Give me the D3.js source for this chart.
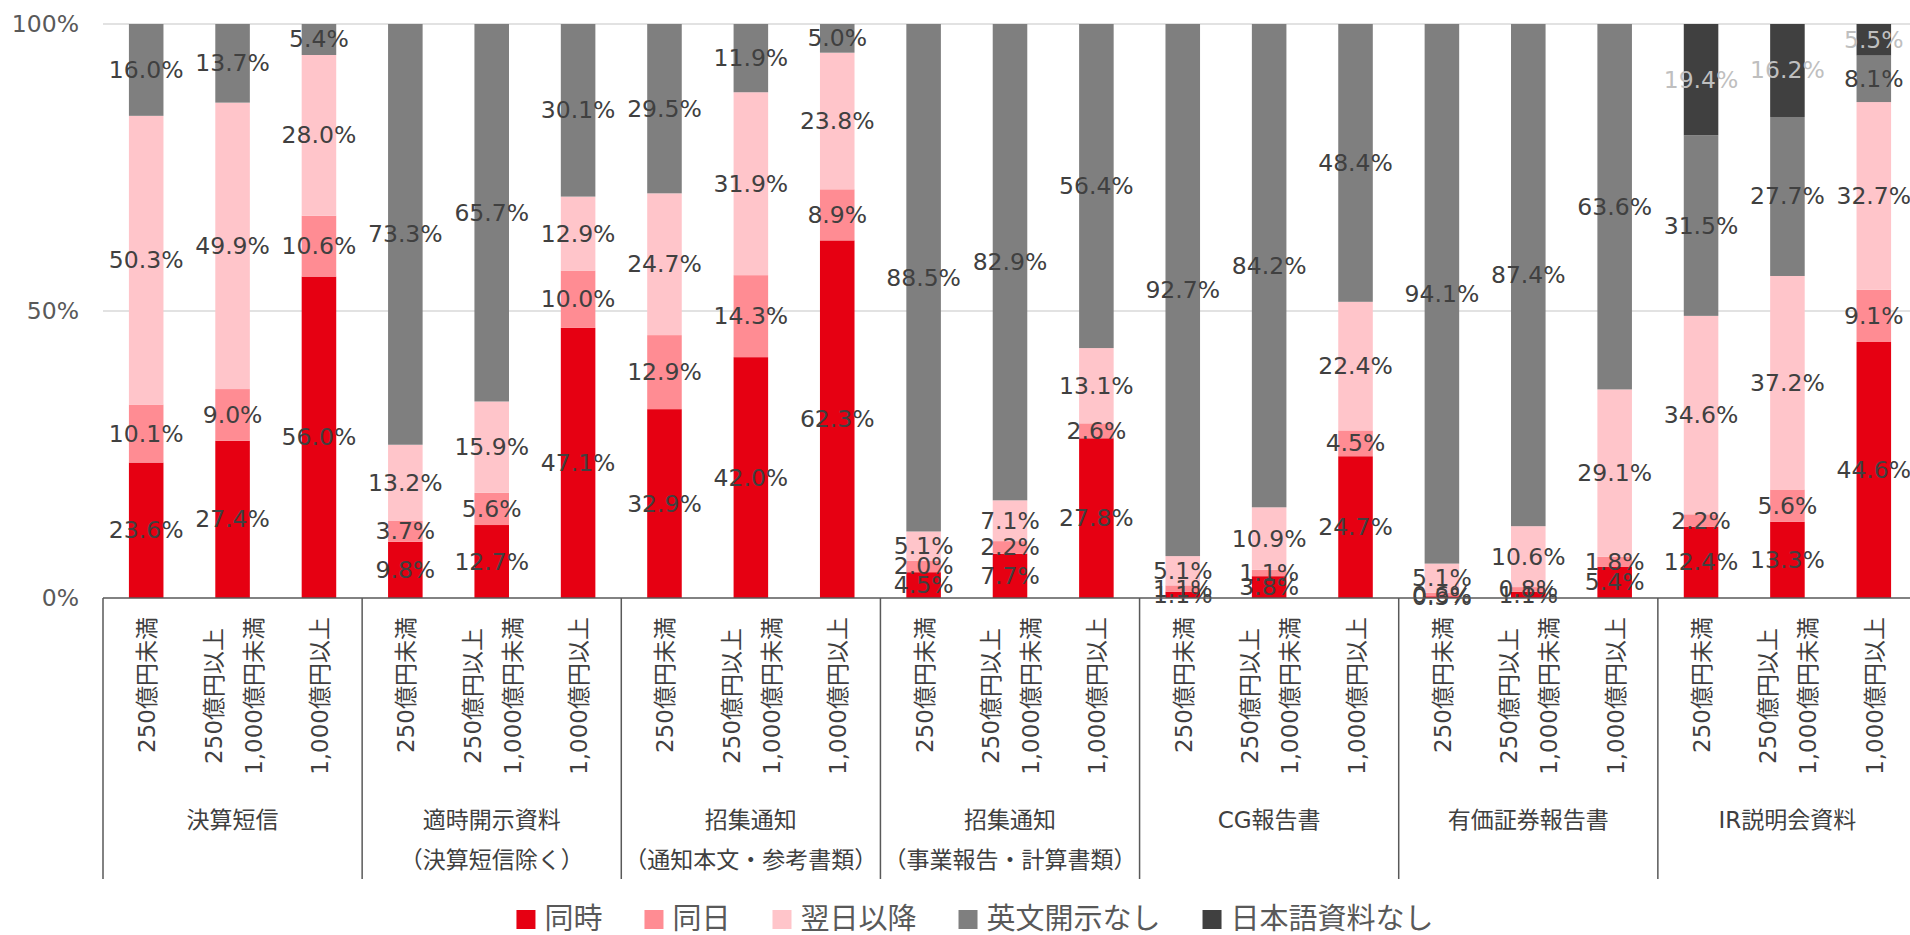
<!DOCTYPE html>
<html>
<head>
<meta charset="utf-8">
<script src="https://cdn.jsdelivr.net/npm/d3@7"></script>
<style>
  body { margin: 0; background: #fff; }
  svg { display: block; font-family: "DejaVu Sans", "Noto Sans CJK JP", sans-serif; }
</style>
</head>
<body>
<svg id="chart"></svg>
<script>
// categories
const groupLabels = [
  ["決算短信"],
  ["適時開示資料", "（決算短信除く）"],
  ["招集通知", "（通知本文・参考書類）"],
  ["招集通知", "（事業報告・計算書類）"],
  ["CG報告書"],
  ["有価証券報告書"],
  ["IR説明会資料"],
];
const sizeLabels = [["250億円未満"], ["250億円以上", "1,000億円未満"], ["1,000億円以上"]];
const seriesNames = ["同時", "同日", "翌日以降", "英文開示なし", "日本語資料なし"];
const seriesColors = ["#E60012", "#FF8C93", "#FFC5CA", "#7F7F7F", "#404040"];
const labelColors = ["#404040", "#404040", "#404040", "#404040", "#BFBFBF"];
const yTicks = [0, 0.5, 1];

// series values (%), 21 bars = 7 groups x 3 sizes
const douji = [23.6, 27.4, 56.0, 9.8, 12.7, 47.1, 32.9, 42.0, 62.3, 4.5, 7.7, 27.8, 1.1, 3.8, 24.7, 0.3, 1.1, 5.4, 12.4, 13.3, 44.6];
const dojitsu = [10.1, 9.0, 10.6, 3.7, 5.6, 10.0, 12.9, 14.3, 8.9, 2.0, 2.2, 2.6, 1.1, 1.1, 4.5, 0.6, 0.8, 1.8, 2.2, 5.6, 9.1];
const yokujitsu = [50.3, 49.9, 28.0, 13.2, 15.9, 12.9, 24.7, 31.9, 23.8, 5.1, 7.1, 13.1, 5.1, 10.9, 22.4, 5.1, 10.6, 29.1, 34.6, 37.2, 32.7];
const eibunNashi = [16.0, 13.7, 5.4, 73.3, 65.7, 30.1, 29.5, 11.9, 5.0, 88.5, 82.9, 56.4, 92.7, 84.2, 48.4, 94.1, 87.4, 63.6, 31.5, 27.7, 8.1];
const nihongoNashi = [0, 0, 0, 0, 0, 0, 0, 0, 0, 0, 0, 0, 0, 0, 0, 0, 0, 0, 19.4, 16.2, 5.5];

const seriesValues = [douji, dojitsu, yokujitsu, eibunNashi, nihongoNashi];

const width = 1910;
const height = 935;
const margin = { top: 24, left: 103, bottom: 598 };
const plotRight = 1917;

const svg = d3.select("#chart").attr("width", width).attr("height", height);

// build table for stack
const rows = d3.range(douji.length).map((i) => {
  const r = { idx: i };
  seriesNames.forEach((s, k) => (r[s] = seriesValues[k][i]));
  return r;
});

const stacked = d3.stack().keys(seriesNames).offset(d3.stackOffsetExpand)(rows);

const xScale = d3
  .scaleBand()
  .domain(d3.range(rows.length))
  .range([margin.left, plotRight])
  .paddingInner(0.6)
  .paddingOuter(0.3);

const yScale = d3.scaleLinear().domain([0, 1]).range([margin.bottom, margin.top]);

// gridlines
svg
  .append("g")
  .selectAll("line")
  .data(yTicks.filter((t) => t > 0))
  .join("line")
  .attr("x1", margin.left)
  .attr("x2", width)
  .attr("y1", (d) => yScale(d))
  .attr("y2", (d) => yScale(d))
  .attr("stroke", "#D9D9D9")
  .attr("stroke-width", 1.5);

// y axis labels
svg
  .append("g")
  .selectAll("text")
  .data(yTicks)
  .join("text")
  .attr("x", 79)
  .attr("y", (d) => yScale(d))
  .attr("text-anchor", "end")
  .attr("dominant-baseline", "central")
  .attr("fill", "#595959")
  .attr("font-size", 23.5)
  .text(d3.format(".0%"));

// bars
const layers = svg
  .append("g")
  .selectAll("g")
  .data(stacked)
  .join("g")
  .attr("fill", (d, i) => seriesColors[i]);

layers
  .selectAll("rect")
  .data((d) => d)
  .join("rect")
  .attr("x", (d) => xScale(d.data.idx))
  .attr("width", xScale.bandwidth())
  .attr("y", (d) => yScale(d[1]))
  .attr("height", (d) => yScale(d[0]) - yScale(d[1]));

// data labels
const labelG = svg.append("g").attr("font-size", 23.5);
stacked.forEach((layer, k) => {
  labelG
    .append("g")
    .attr("fill", labelColors[k])
    .selectAll("text")
    .data(layer.filter((d) => d.data[seriesNames[k]] > 0))
    .join("text")
    .attr("x", (d) => xScale(d.data.idx) + xScale.bandwidth() / 2)
    .attr("y", (d) => yScale((d[0] + d[1]) / 2))
    .attr("text-anchor", "middle")
    .attr("dominant-baseline", "central")
    .text((d) => d.data[seriesNames[k]].toFixed(1) + "%");
});

// category axis
const axisBottom = 879;
const groupStep = xScale.step() * 3;
const axisG = svg.append("g");
axisG
  .append("line")
  .attr("x1", margin.left)
  .attr("x2", width)
  .attr("y1", margin.bottom)
  .attr("y2", margin.bottom)
  .attr("stroke", "#595959")
  .attr("stroke-width", 1.5);

axisG
  .selectAll(".sep")
  .data(d3.range(groupLabels.length + 1))
  .join("line")
  .attr("class", "sep")
  .attr("x1", (d) => margin.left + d * groupStep)
  .attr("x2", (d) => margin.left + d * groupStep)
  .attr("y1", margin.bottom)
  .attr("y2", axisBottom)
  .attr("stroke", "#595959")
  .attr("stroke-width", 1.5);

// rotated size labels
const tickTop = 617;
const lineGap = 40;
rows.forEach((r) => {
  const lines = sizeLabels[r.idx % 3];
  const cx = xScale(r.idx) + xScale.bandwidth() / 2 + 1;
  const g = axisG.append("g").attr("font-size", 23).attr("fill", "#404040");
  const texts = lines.map((t, j) =>
    g
      .append("text")
      .attr("text-anchor", "middle")
      .attr("dominant-baseline", "central")
      .text(t)
  );
  const maxLen = d3.max(texts, (t) => t.node().getComputedTextLength());
  const cy = tickTop + maxLen / 2;
  texts.forEach((t, j) => {
    const dx = (j - (lines.length - 1) / 2) * lineGap;
    t.attr("transform", `translate(${cx + dx},${cy}) rotate(-90)`);
  });
});

// group labels
groupLabels.forEach((lines, gi) => {
  const cx = margin.left + (gi + 0.5) * groupStep;
  lines.forEach((t, j) => {
    axisG
      .append("text")
      .attr("x", cx)
      .attr("y", 820 + j * 40)
      .attr("text-anchor", "middle")
      .attr("dominant-baseline", "central")
      .attr("font-size", 23)
      .attr("fill", "#404040")
      .text(t);
  });
});

// legend
const legend = svg.append("g").attr("font-size", 29).attr("fill", "#595959");
const legendY = 919;
const items = seriesNames.map((name, i) => {
  const g = legend.append("g");
  g.append("rect")
    .attr("width", 19)
    .attr("height", 19)
    .attr("y", legendY - 9)
    .attr("fill", seriesColors[i]);
  const t = g
    .append("text")
    .attr("x", 28)
    .attr("y", legendY)
    .attr("dominant-baseline", "central")
    .text(name);
  return { g, w: 28 + t.node().getComputedTextLength() };
});
const totalW = d3.sum(items, (d) => d.w) + 42 * (items.length - 1);
let lx = 975 - totalW / 2;
items.forEach((it) => {
  it.g.attr("transform", `translate(${lx},0)`);
  lx += it.w + 42;
});
</script>
</body>
</html>
